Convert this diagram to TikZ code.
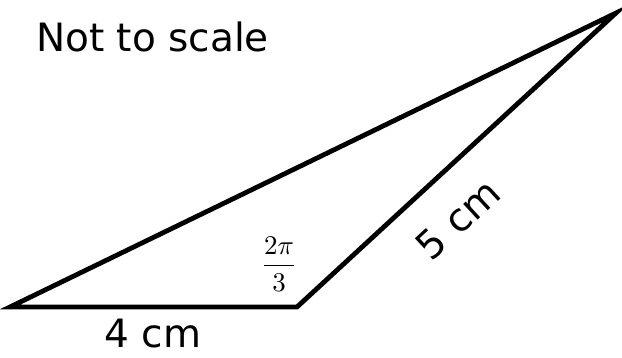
\documentclass[tikz,border=0pt]{standalone}
\usepackage{fontspec}
\setmainfont{DejaVu Sans}
\usetikzlibrary{calc}

\begin{document}
\begin{tikzpicture}[
  x=1pt, y=-1pt,
  sidelabel/.style={
    font=\fontsize{39pt}{44pt}\selectfont,
    inner sep=0pt
  },
  anglelabel/.style={
    font=\fontsize{10pt}{12pt}\selectfont,
    inner sep=0pt
  },
  triside/.style={
    line width=4.8pt,
    line join=miter,
    draw=black
  }
]

  % Page frame
  \useasboundingbox (0,0) rectangle (622,358);

  % Vertices
  \coordinate (vleft) at (10,307);
  \coordinate (vobtuse) at (297,307);
  \coordinate (vtop) at (616,13);

  % Triangle
  \draw[triside] (vleft) -- (vobtuse) -- (vtop) -- cycle;

  % Labels
  \node[sidelabel, anchor=base west] (note) at (36,52) {Not to scale};
  \node[sidelabel] (base) at (153,334) {4 cm};
  \node[sidelabel, rotate=42.7] (slant) at (458,219) {5 cm};
  \node[anglelabel] (angle) at (279,264) {\scalebox{2.7}{$\displaystyle\frac{2\pi}{3}$}};

\end{tikzpicture}
\end{document}
